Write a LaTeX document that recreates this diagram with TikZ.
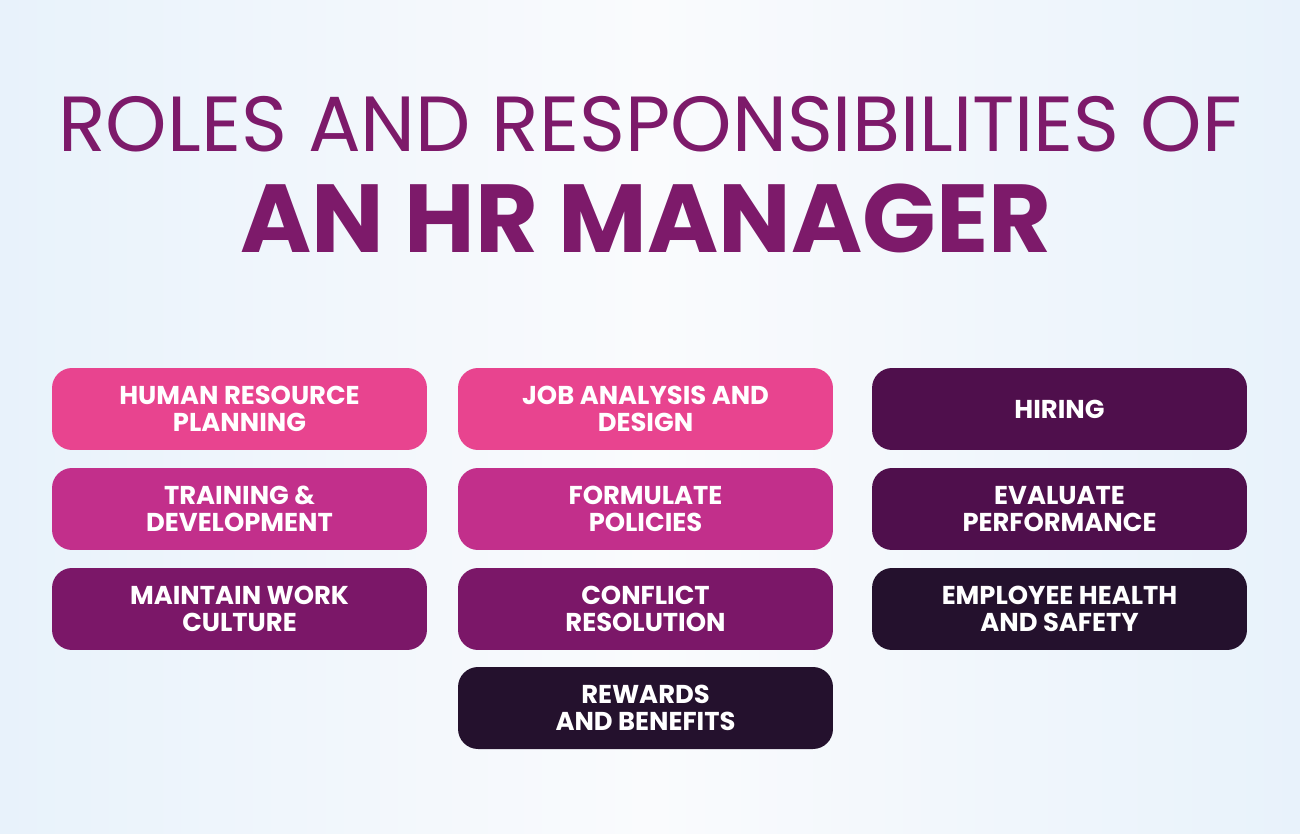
\documentclass[tikz,border=0pt]{standalone}
\usepackage{fontspec}
\setmainfont{Poppins}
\usetikzlibrary{positioning}
\definecolor{edgepr}{RGB}{232, 242, 251}
\definecolor{bgpr}{RGB}{250, 251, 253}
\definecolor{titlepr}{RGB}{125, 26, 106}
\definecolor{pinkpr}{RGB}{232, 68, 143}
\definecolor{magentapr}{RGB}{194, 47, 139}
\definecolor{plumpr}{RGB}{123, 23, 104}
\definecolor{grapepr}{RGB}{79, 15, 76}
\definecolor{inkpr}{RGB}{36, 17, 45}

\begin{document}
\begin{tikzpicture}[x=0.02cm, y=-0.02cm,
    duty/.style={rounded corners=0.4cm, minimum width=7.5cm, minimum height=1.64cm,
        text=white, align=center, font=\fontsize{14.7}{15.4}\selectfont\bfseries, inner sep=0pt}]
    % background
    \shade[left color=edgepr, right color=edgepr, middle color=bgpr] (0,0) rectangle (1300,834);
    \useasboundingbox (0,0) rectangle (1300,834);

    % title
    \node[text=titlepr, font=\fontsize{44.5}{44.5}\selectfont] (title) at (650,124) {ROLES AND RESPONSIBILITIES OF};
    \node[text=titlepr, font=\fontsize{55}{55}\selectfont\bfseries] (subtitle) at (646,218) {AN HR MANAGER};

    % first column
    \node[duty, fill=pinkpr] (planning) at (239.5,409) {HUMAN RESOURCE\\PLANNING};
    \node[duty, fill=magentapr] (training) at (239.5,509) {TRAINING \&\\DEVELOPMENT};
    \node[duty, fill=plumpr] (culture) at (239.5,609) {MAINTAIN WORK\\CULTURE};

    % second column
    \node[duty, fill=pinkpr] (jobdesign) at (645.5,409) {JOB ANALYSIS AND\\DESIGN};
    \node[duty, fill=magentapr] (policies) at (645.5,509) {FORMULATE\\POLICIES};
    \node[duty, fill=plumpr] (conflict) at (645.5,609) {CONFLICT\\RESOLUTION};
    \node[duty, fill=inkpr] (rewards) at (645.5,708) {REWARDS\\AND BENEFITS};

    % third column
    \node[duty, fill=grapepr] (hiring) at (1059.5,409) {HIRING};
    \node[duty, fill=grapepr] (evaluate) at (1059.5,509) {EVALUATE\\PERFORMANCE};
    \node[duty, fill=inkpr] (safety) at (1059.5,609) {EMPLOYEE HEALTH\\AND SAFETY};
\end{tikzpicture}
\end{document}
